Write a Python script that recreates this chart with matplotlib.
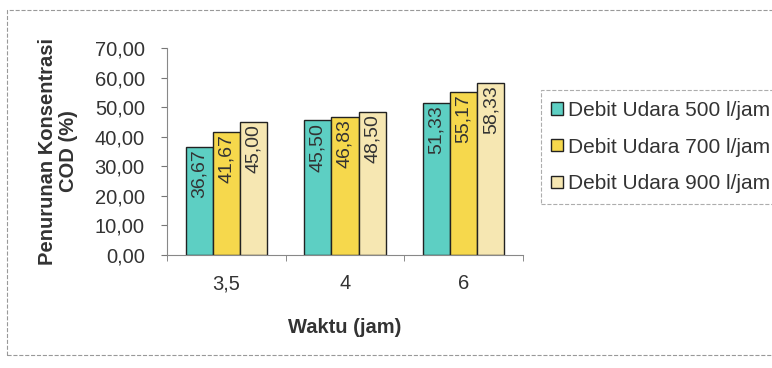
import matplotlib.pyplot as plt
from matplotlib.patches import Rectangle
import numpy as np

plt.rcParams['font.family'] = ['Liberation Sans', 'DejaVu Sans']

waktu = ['3,5', '4', '6']
series = ['Debit Udara 500 l/jam', 'Debit Udara 700 l/jam', 'Debit Udara 900 l/jam']
d500 = [36.67, 45.50, 51.33]
d700 = [41.67, 46.83, 55.17]
d900 = [45.00, 48.50, 58.33]
colors = ['#5dcfc3', '#f6d84c', '#f6e7b2']

def fmt(v):
    return ('%.2f' % v).replace('.', ',')

fig = plt.figure(figsize=(7.72, 3.68), dpi=100)
ax = fig.add_axes([0.2163, 0.307, 0.4611, 0.5625])

x = np.arange(len(waktu))
w = 0.229
for i, (vals, c, lab) in enumerate(zip([d500, d700, d900], colors, series)):
    pos = x + (i - 1) * w
    ax.bar(pos, vals, width=w, color=c, edgecolor='#222222', linewidth=1.0, label=lab)
    for p, v in zip(pos, vals):
        ax.text(p, v - 0.8, fmt(v), rotation=90, ha='center', va='top',
                fontsize=14, color='#333333')

ax.set_xlim(-0.5, 2.5)
ax.set_ylim(0, 70)
ax.set_yticks(np.arange(0, 71, 10))
ax.set_yticklabels([fmt(t) for t in np.arange(0, 71, 10)], fontsize=14.5, color='#333333')
ax.set_xticks(x)
ax.set_xticklabels(waktu, fontsize=14.5, color='#333333')
ax.set_xticks([-0.5, 0.5, 1.5, 2.5], minor=True)
ax.tick_params(axis='x', which='major', length=0, pad=14)
ax.tick_params(axis='x', which='minor', length=4, direction='out', color='#777777')
ax.tick_params(axis='y', length=4, direction='out', color='#777777', pad=12)
for s in ['top', 'right']:
    ax.spines[s].set_visible(False)
for s in ['left', 'bottom']:
    ax.spines[s].set_color('#888888')

ax.set_ylabel('Penurunan Konsentrasi\nCOD (%)', fontsize=14.5, fontweight='bold',
              color='#333333', labelpad=12, linespacing=1.1)
ax.set_xlabel('Waktu (jam)', fontsize=14.5, fontweight='bold', color='#333333', labelpad=18)

leg = ax.legend(loc='upper left', bbox_to_anchor=(1.05, 0.795), fontsize=15,
                frameon=True, fancybox=False, handlelength=0.55, handleheight=0.55,
                handletextpad=0.25, labelspacing=0.85, borderpad=0.5, borderaxespad=0)
leg.get_frame().set_edgecolor('#999999')
leg.get_frame().set_linestyle('--')
leg.get_frame().set_linewidth(0.8)
for t in leg.get_texts():
    t.set_color('#333333')

fig.patches.append(Rectangle((7 / 772, 13 / 368), 1.0, 1 - 23 / 368, transform=fig.transFigure,
                             fill=False, edgecolor='#999999', linestyle='--', linewidth=0.8))

fig.savefig('out.png', dpi=100)
